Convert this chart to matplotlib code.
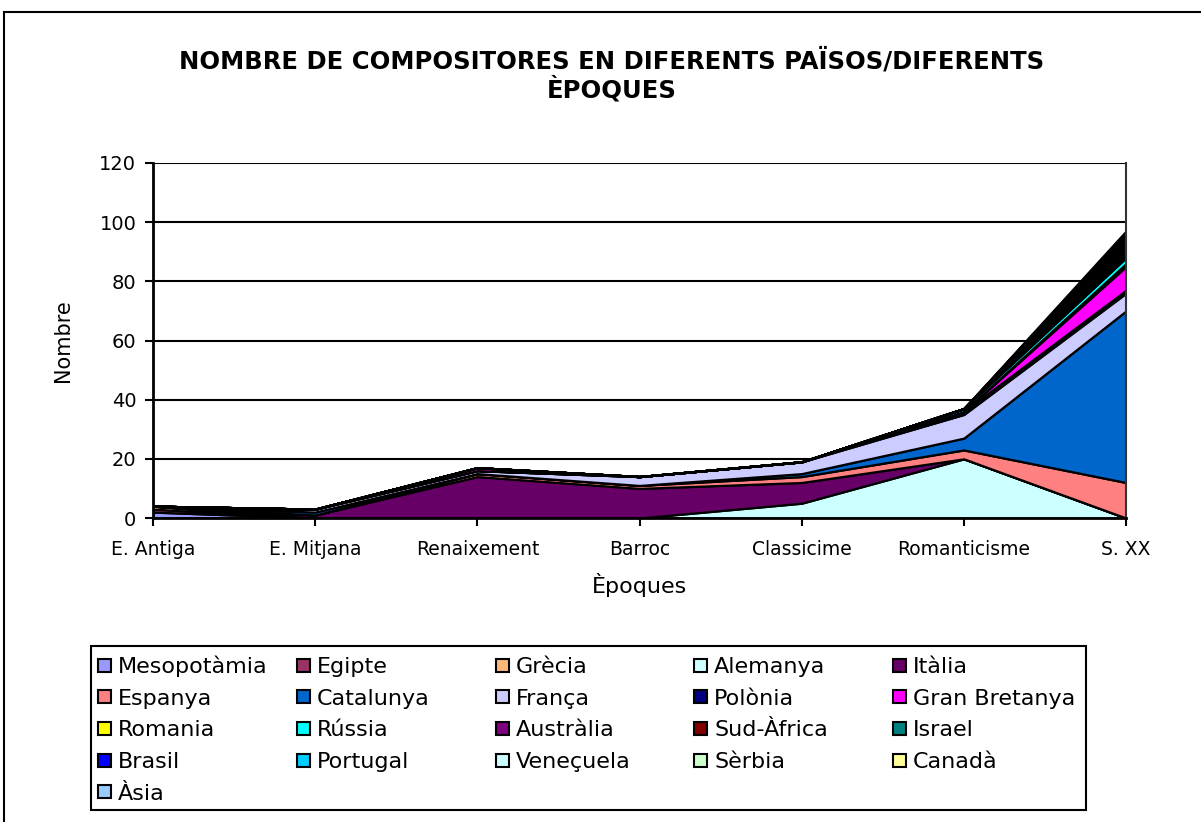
import numpy as np
import matplotlib
matplotlib.use("Agg")
import matplotlib.pyplot as plt
from matplotlib.patches import Rectangle
from matplotlib.lines import Line2D

# 1. Data
epoques = ["E. Antiga", "E. Mitjana", "Renaixement", "Barroc", "Classicime", "Romanticisme", "S. XX"]

paisos = ["Mesopotàmia", "Egipte", "Grècia", "Alemanya", "Itàlia",
          "Espanya", "Catalunya", "França", "Polònia", "Gran Bretanya",
          "Romania", "Rússia", "Austràlia", "Sud-Àfrica", "Israel",
          "Brasil", "Portugal", "Veneçuela", "Sèrbia", "Canadà", "Àsia"]

mesopotamia = [2, 0, 0, 0, 0, 0, 0]
egipte = [1, 0, 0, 0, 0, 0, 0]
grecia = [1, 0, 0, 0, 0, 0, 0]
alemanya = [0, 0, 0, 0, 5, 20, 0]
italia = [0, 1, 14, 10, 7, 0, 0]
espanya = [0, 0, 1, 1, 2, 3, 12]
catalunya = [0, 1, 0, 0, 1, 4, 58]
franca = [0, 1, 1, 3, 4, 8, 6]
polonia = [0, 0, 0, 0, 0, 1, 1]
gran_bretanya = [0, 0, 1, 0, 0, 0, 8]
romania = [0, 0, 0, 0, 0, 0, 1]
russia = [0, 0, 0, 0, 0, 1, 2]
australia = [0, 0, 0, 0, 0, 0, 1]
sud_africa = [0, 0, 0, 0, 0, 0, 1]
israel = [0, 0, 0, 0, 0, 0, 1]
brasil = [0, 0, 0, 0, 0, 0, 1]
portugal = [0, 0, 0, 0, 0, 0, 1]
veneçuela = [0, 0, 0, 0, 0, 0, 1]
serbia = [0, 0, 0, 0, 0, 0, 1]
canada = [0, 0, 0, 0, 0, 0, 1]
asia = [0, 0, 0, 0, 0, 0, 1]

series = [mesopotamia, egipte, grecia, alemanya, italia, espanya, catalunya,
          franca, polonia, gran_bretanya, romania, russia, australia,
          sud_africa, israel, brasil, portugal, veneçuela, serbia, canada, asia]

colors = ["#9999FF", "#993366", "#FFB877", "#CCFFFF", "#660066",
          "#FF8080", "#0066CC", "#CCCCFF", "#000080", "#FF00FF",
          "#FFFF00", "#00FFFF", "#800080", "#800000", "#008080",
          "#0000FF", "#00CCFF", "#CCFFFF", "#CCFFCC", "#FFFF99", "#99CCFF"]

# 2. Figure
W, H = 1201, 822
fig = plt.figure(figsize=(W / 100, H / 100), dpi=100)
fig.patch.set_facecolor("white")

# outer chart border (top and left visible)
fig.add_artist(Line2D([4 / W, 4 / W], [0, 1 - 12 / H], transform=fig.transFigure, color="black", lw=1.5))
fig.add_artist(Line2D([4 / W, 1], [1 - 12 / H, 1 - 12 / H], transform=fig.transFigure, color="black", lw=1.5))

ax = fig.add_axes([153 / W, 1 - 518 / H, (1126 - 153) / W, (518 - 163) / H])

x = np.arange(len(epoques))
polys = ax.stackplot(x, *series, colors=colors, edgecolor="black", linewidth=1.6)

ax.set_xlim(0, len(epoques) - 1)
ax.set_ylim(0, 120)
ax.set_yticks(range(0, 121, 20))
ax.yaxis.grid(True, color="black", lw=1.5)
ax.set_axisbelow(True)
ax.set_xticks(x)
ax.set_xticklabels(epoques, fontsize=13.5)
ax.tick_params(axis="y", labelsize=14, length=6, width=1.5, direction="out", pad=6)
ax.tick_params(axis="x", length=6, width=1.5, direction="out", pad=10)

for s in ["left", "bottom"]:
    ax.spines[s].set_linewidth(2)
ax.spines["top"].set_visible(False)
ax.spines["right"].set_color("#333333")
ax.spines["right"].set_linewidth(1.5)

ax.set_xlabel("Èpoques", fontsize=16, labelpad=10)
ax.set_ylabel("Nombre", fontsize=15, labelpad=19)

fig.text(612 / W, 1 - 61 / H, "NOMBRE DE COMPOSITORES EN DIFERENTS PAÏSOS/DIFERENTS",
         ha="center", va="center", fontsize=17.5, fontweight="bold")
fig.text(612 / W, 1 - 89 / H, "ÈPOQUES", ha="center", va="center", fontsize=17.5, fontweight="bold")

# 3. Legend, laid out row by row on an even grid like the original
ncol = 5
col_x = [98, 297, 496, 694, 893]
row_y0, row_dy = 665, 31.7
box = 13
for i, (name, col) in enumerate(zip(paisos, colors)):
    r, c = divmod(i, ncol)
    cy = row_y0 + r * row_dy
    fig.add_artist(Rectangle((col_x[c] / W, 1 - (cy + box / 2) / H), box / W, box / H,
                             transform=fig.transFigure, facecolor=col, edgecolor="black", lw=1.5))
    fig.text((col_x[c] + box + 7) / W, 1 - (cy + 8) / H, name,
             ha="left", va="baseline", fontsize=16)

fig.add_artist(Rectangle((91 / W, 1 - 810 / H), (1086 - 91) / W, (810 - 646) / H,
                         transform=fig.transFigure, fill=False, edgecolor="black", lw=1.5))

fig.savefig("out.png", dpi=100)
